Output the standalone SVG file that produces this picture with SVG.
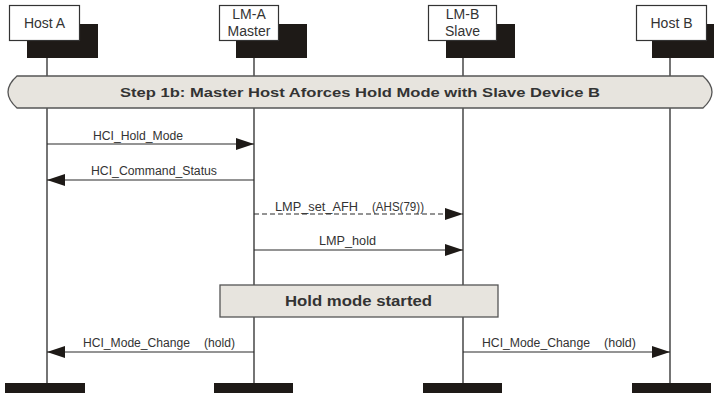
<svg xmlns="http://www.w3.org/2000/svg" width="719" height="396" viewBox="0 0 719 396">
<style>
.box{fill:#fff;stroke:#333;stroke-width:1.2}
.shadow{fill:#1e1a17}
.life{stroke:#2a2a2a;stroke-width:1.3}
.msg{stroke:#2a2a2a;stroke-width:1.2;fill:none}
.dash{stroke-dasharray:5,3}
.nt{font-family:"Liberation Sans",Arial,sans-serif;font-size:14px;fill:#333;text-anchor:middle}
.lbl{font-family:"Liberation Sans Narrow","Liberation Sans",Arial,sans-serif;font-size:12px;fill:#333}
.bold{font-family:"Liberation Sans",Arial,sans-serif;font-weight:bold;fill:#333;text-anchor:middle}
.band{fill:#e7e4de;stroke:#555;stroke-width:1.3}
.bar{fill:#1e1a17}
</style>
<defs>
<marker id="ah" markerWidth="18" markerHeight="12" refX="18" refY="6" orient="auto" markerUnits="userSpaceOnUse">
<path d="M0,0 L18,6 L0,12 Z" fill="#1e1a17"/>
</marker>
</defs>

<g id="lifelines">
<line class="life" x1="47" y1="58" x2="47" y2="384"/>
<line class="life" x1="254" y1="58" x2="254" y2="384"/>
<line class="life" x1="463" y1="58" x2="463" y2="384"/>
<line class="life" x1="670" y1="58" x2="670" y2="384"/>
</g>

<g id="hostA">
<rect class="shadow" x="27" y="24" width="71" height="34"/>
<rect class="box" x="9.5" y="5.5" width="70" height="35"/>
<text class="nt" x="44.5" y="28">Host A</text>
<rect class="bar" x="5" y="383" width="80" height="10"/>
</g>
<g id="lmA">
<rect class="shadow" x="236" y="24" width="71" height="34"/>
<rect class="box" x="219.5" y="5.5" width="59" height="35"/>
<text class="nt" x="249" y="19">LM-A</text>
<text class="nt" x="249" y="36">Master</text>
<rect class="bar" x="214" y="383" width="79" height="10"/>
</g>
<g id="lmB">
<rect class="shadow" x="446" y="24" width="69" height="34"/>
<rect class="box" x="428.5" y="5.5" width="68" height="35"/>
<text class="nt" x="462.5" y="19">LM-B</text>
<text class="nt" x="462.5" y="36">Slave</text>
<rect class="bar" x="423" y="383" width="79" height="10"/>
</g>
<g id="hostB">
<rect class="shadow" x="652" y="24" width="62" height="34"/>
<rect class="box" x="636.5" y="5.5" width="70" height="35"/>
<text class="nt" x="671.5" y="28">Host B</text>
<rect class="bar" x="632" y="383" width="79" height="10"/>
</g>

<g id="step">
<path class="band" d="M17,76 H703 Q712,84 712,92 Q712,100 703,108 H17 Q8,100 8,92 Q8,84 17,76 Z"/>
<text class="bold" x="360" y="97" font-size="13" textLength="480" lengthAdjust="spacingAndGlyphs">Step 1b: Master Host Aforces Hold Mode with Slave Device B</text>
</g>

<g id="holdStarted">
<rect class="band" x="220" y="285" width="278" height="32"/>
<text class="bold" x="358.5" y="306" font-size="14" textLength="147" lengthAdjust="spacingAndGlyphs">Hold mode started</text>
</g>

<g id="connectors">
<line class="msg" x1="47" y1="144" x2="254" y2="144" marker-end="url(#ah)"/>
<text class="lbl" x="93" y="140" textLength="90" lengthAdjust="spacingAndGlyphs">HCI_Hold_Mode</text>

<line class="msg" x1="254" y1="180" x2="47" y2="180" marker-end="url(#ah)"/>
<text class="lbl" x="91" y="175" textLength="126" lengthAdjust="spacingAndGlyphs">HCI_Command_Status</text>

<line class="msg dash" x1="254" y1="214" x2="463" y2="214" marker-end="url(#ah)"/>
<text class="lbl" x="275" y="211" textLength="83" lengthAdjust="spacingAndGlyphs">LMP_set_AFH</text>
<text class="lbl" x="372" y="211" textLength="52" lengthAdjust="spacingAndGlyphs">(AHS(79))</text>

<line class="msg" x1="254" y1="250" x2="463" y2="250" marker-end="url(#ah)"/>
<text class="lbl" x="319" y="245" textLength="57" lengthAdjust="spacingAndGlyphs">LMP_hold</text>

<line class="msg" x1="254" y1="352" x2="47" y2="352" marker-end="url(#ah)"/>
<text class="lbl" x="83" y="347" textLength="107" lengthAdjust="spacingAndGlyphs">HCI_Mode_Change</text>
<text class="lbl" x="204" y="347" textLength="31" lengthAdjust="spacingAndGlyphs">(hold)</text>

<line class="msg" x1="463" y1="352" x2="670" y2="352" marker-end="url(#ah)"/>
<text class="lbl" x="482" y="347" textLength="108" lengthAdjust="spacingAndGlyphs">HCI_Mode_Change</text>
<text class="lbl" x="604" y="347" textLength="32" lengthAdjust="spacingAndGlyphs">(hold)</text>
</g>
</svg>
